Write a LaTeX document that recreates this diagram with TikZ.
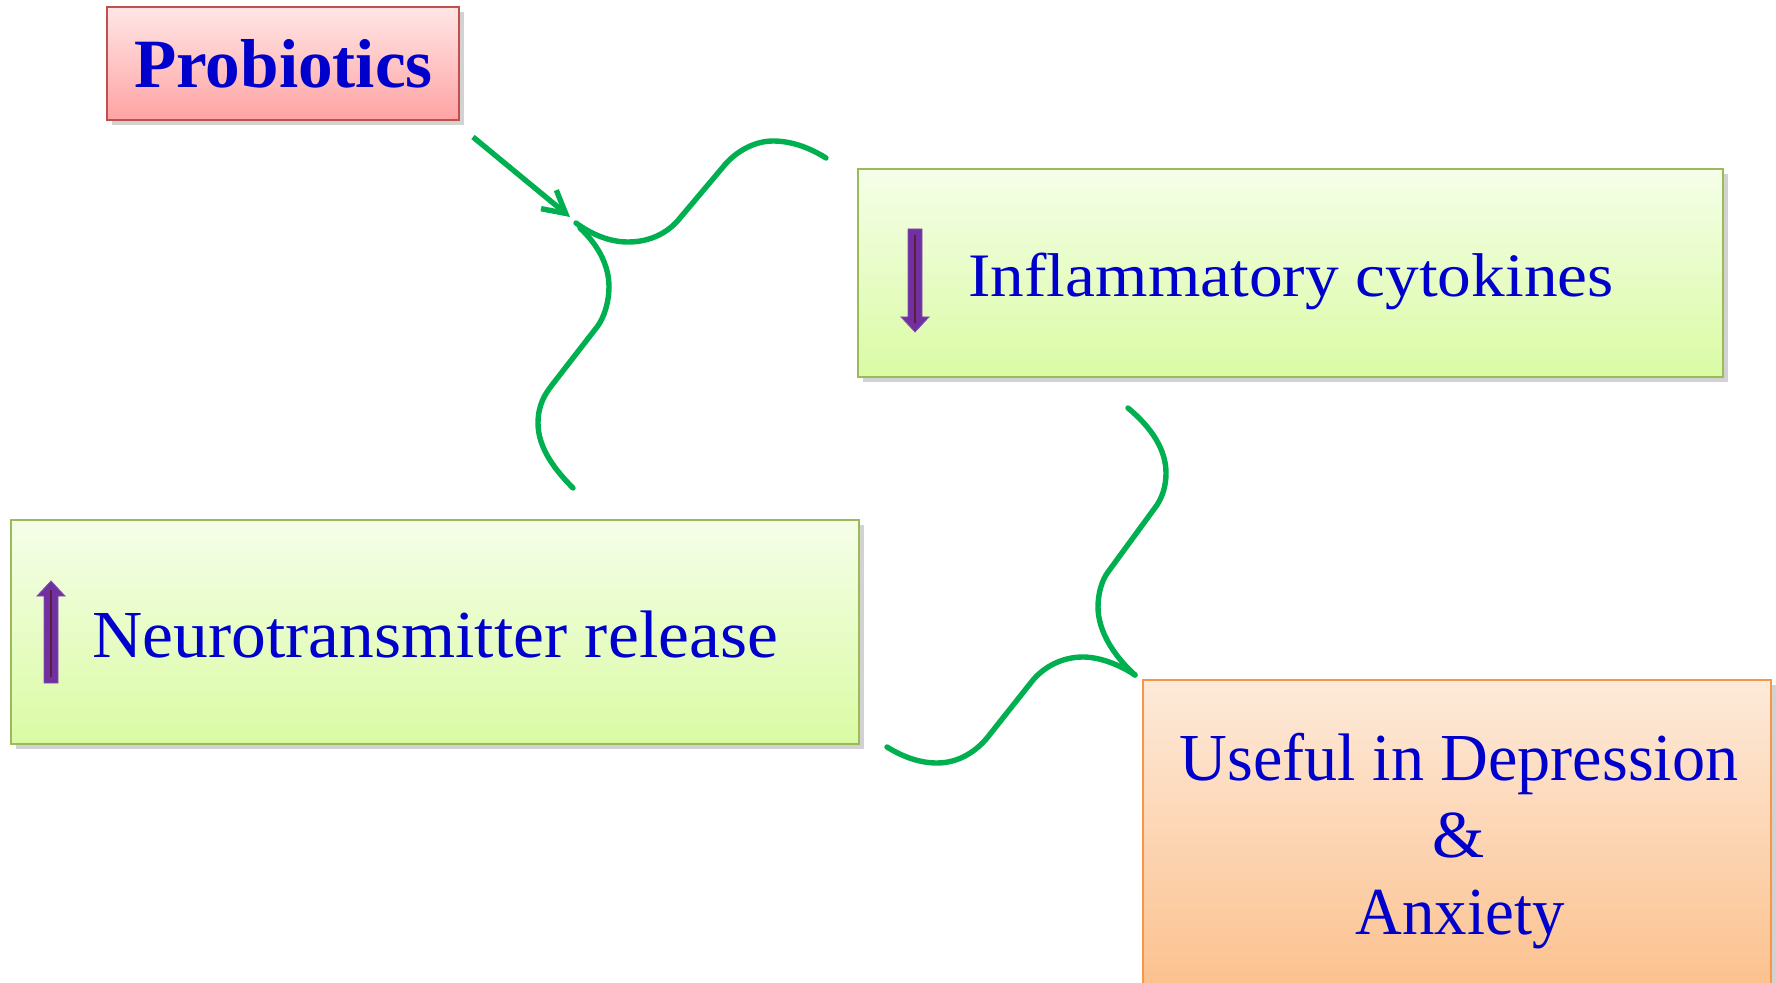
\documentclass[tikz,border=0pt]{standalone}
\usepackage{fontspec}
\setmainfont{Liberation Serif}
\usetikzlibrary{arrows.meta,shadows}
\definecolor{txtblue}{HTML}{0000CC}
\definecolor{pinkborder}{HTML}{C0504D}
\definecolor{pinktop}{HTML}{FFE6E6}
\definecolor{pinkbot}{HTML}{FFA3A3}
\definecolor{grnborder}{HTML}{9BBB59}
\definecolor{grntop}{HTML}{F5FEE8}
\definecolor{grnbot}{HTML}{DAFBA4}
\definecolor{orgborder}{HTML}{F79646}
\definecolor{orgtop}{HTML}{FDEADA}
\definecolor{orgbot}{HTML}{FCBD86}
\definecolor{linkgreen}{HTML}{00B050}
\definecolor{arrpurple}{HTML}{7030A0}
\definecolor{arrinner}{HTML}{5E1C3E}
\begin{document}
\begin{tikzpicture}[x=0.5pt,y=-0.5pt,
  boxbase/.style={rectangle, line width=1.1pt, inner sep=0pt,
    drop shadow={shadow xshift=2.5pt, shadow yshift=-2.5pt, opacity=0.25, fill=black!70}},
  pinkbox/.style={boxbase, draw=pinkborder, top color=pinktop, bottom color=pinkbot},
  greenbox/.style={boxbase, draw=grnborder, top color=grntop, bottom color=grnbot},
  orangebox/.style={boxbase, draw=orgborder, top color=orgtop, bottom color=orgbot},
  label/.style={inner sep=0pt, text=txtblue},
  link/.style={draw=linkgreen, line width=2.7pt, line cap=round},
  updown/.style={fill=arrpurple, draw=arrpurple!85!white, line width=0.4pt},
  innerline/.style={draw=arrinner, line width=1pt}
]
\clip (0,0) rectangle (1776,983);
\fill[white] (0,0) rectangle (1776,983);

% boxes
\node[pinkbox, minimum width=176pt, minimum height=56.5pt] (prob) at (283,63.5) {};
\node[greenbox, minimum width=432.5pt, minimum height=104pt] (infl) at (1290.5,273) {};
\node[greenbox, minimum width=424pt, minimum height=112pt] (neuro) at (435,632) {};
\node[orangebox, minimum width=314pt, minimum height=170pt] (useful) at (1457,850) {};

% texts
\node[label, anchor=base] (probt) at (283.5,88)
  {\fontsize{34.6}{40}\selectfont\bfseries Probiotics};
\node[label, anchor=base west] (inflt) at (968,297)
  {\scalebox{1.09}[1]{\fontsize{30.9}{36}\selectfont Inflammatory cytokines}};
\node[label, anchor=base west] (neurot) at (92,657)
  {\scalebox{1.035}[1]{\fontsize{33.6}{38}\selectfont Neurotransmitter release}};
\node[label, anchor=base] (use1) at (1459,780)
  {\scalebox{0.985}[1]{\fontsize{33.6}{38}\selectfont Useful in Depression}};
\node[label, anchor=base] (use2) at (1459,857)
  {\fontsize{33.6}{38}\selectfont \&};
\node[label, anchor=base] (use3) at (1460,934)
  {\scalebox{0.965}[1]{\fontsize{33.6}{38}\selectfont Anxiety}};

% purple down arrow
\filldraw[updown] (908,229) -- (922,229) -- (922,317) -- (929,317) -- (915,332)
  -- (901,317) -- (908,317) -- cycle;
\draw[innerline] (915,235) -- (915,323);
% purple up arrow
\filldraw[updown] (44,683) -- (58,683) -- (58,596) -- (65,596) -- (51,581)
  -- (37,596) -- (44,596) -- cycle;
\draw[innerline] (51,677) -- (51,590);

% connector ends
\coordinate (pstart) at (473,137);
\coordinate (junc) at (570,217);
\coordinate (aStart) at (826,158);
\coordinate (aEnd) at (576,223);
\coordinate (bStart) at (573,488);
\coordinate (bEnd) at (580,228);
\coordinate (cStart) at (1128,408);
\coordinate (dStart) at (887,747);
\coordinate (meet) at (1135,675);

% straight arrow from Probiotics
\draw[link, line cap=butt, -{Straight Barb[length=11pt,width=12pt,line width=2.7pt]}] (pstart) -- (junc);

% curve from Inflammatory cytokines to junction
\draw[link] (aStart) .. controls (810,148) and (792,141) .. (773,141)
  .. controls (753,141) and (734,153) .. (723,167) -- (680,218)
  .. controls (668,233) and (650,242) .. (628,242)
  .. controls (609,242) and (591,234) .. (aEnd);

% curve from Neurotransmitter release to junction
\draw[link] (bStart) .. controls (555,470) and (538,448) .. (538,423)
  .. controls (538,405) and (545,394) .. (552,385) -- (597,327)
  .. controls (604,318) and (609,302) .. (609,287)
  .. controls (609,265) and (598,245) .. (bEnd);

% curve from Inflammatory cytokines to Useful box
\draw[link] (cStart) .. controls (1152,428) and (1166,450) .. (1166,473)
  .. controls (1166,487) and (1162,497) .. (1157,505) -- (1108,572)
  .. controls (1102,580) and (1098,593) .. (1098,607)
  .. controls (1098,632) and (1115,657) .. (meet);

% curve from Neurotransmitter release to Useful box
\draw[link] (dStart) .. controls (903,757) and (920,763) .. (937,763)
  .. controls (960,763) and (977,750) .. (987,738) -- (1033,680)
  .. controls (1045,666) and (1063,657) .. (1083,657)
  .. controls (1100,657) and (1120,665) .. (meet);
\end{tikzpicture}
\end{document}
